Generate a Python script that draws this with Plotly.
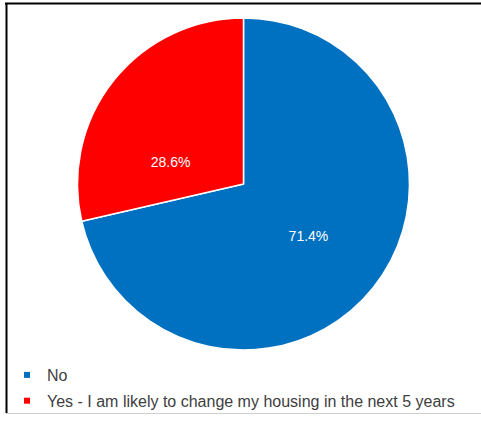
import plotly.graph_objects as go

labels = ["No", "Yes - I am likely to change my housing in the next 5 years"]
values = [71.4, 28.6]
colors = ["#0070C0", "#FF0000"]
label_templates = ["%{percent:.1%}", "&nbsp;<br>&nbsp;<br>&nbsp;<br>&nbsp;<br>%{percent:.1%}"]

W, H = 481, 421
cx, cy, r = 243.5, 184, 166
FONT = "Liberation Sans, Arial, sans-serif"

fig = go.Figure()
fig.add_trace(go.Pie(
    labels=labels, values=values, sort=False, direction="clockwise", rotation=0,
    marker=dict(colors=colors, line=dict(color="white", width=1.5)),
    texttemplate=label_templates, textposition="inside",
    insidetextfont=dict(color="white", size=14, family=FONT),
    insidetextorientation="horizontal",
    domain=dict(x=[(cx - r) / W, (cx + r) / W], y=[1 - (cy + r) / H, 1 - (cy - r) / H]),
    hoverinfo="label+percent", showlegend=False,
))

# legend entries with small square markers
for i, (lab, col) in enumerate(zip(labels, colors)):
    fig.add_trace(go.Scatter(
        x=[None], y=[None], mode="markers", name=lab, legendgroup=f"g{i}",
        marker=dict(symbol="square", size=6, color=col), showlegend=True,
    ))

fig.update_layout(
    width=W, height=H, margin=dict(l=0, r=0, t=0, b=0),
    paper_bgcolor="white", plot_bgcolor="rgba(0,0,0,0)",
    font=dict(family=FONT, size=16, color="#404040"),
    xaxis=dict(visible=False), yaxis=dict(visible=False),
    showlegend=True,
    legend=dict(x=7 / W, y=1 - 358 / H, xanchor="left", yanchor="top",
                orientation="v", bgcolor="rgba(0,0,0,0)", tracegroupgap=2,
                font=dict(size=16, color="#404040", family=FONT)),
    shapes=[
        dict(type="line", xref="paper", yref="paper", x0=5 / W, x1=1.01, y0=1 - 3.5 / H, y1=1 - 3.5 / H,
             line=dict(color="black", width=2)),
        dict(type="line", xref="paper", yref="paper", x0=6.5 / W, x1=6.5 / W, y0=1 - 3 / H, y1=1 - 413 / H,
             line=dict(color="black", width=2)),
        dict(type="line", xref="paper", yref="paper", x0=6 / W, x1=1.01, y0=1 - 413.5 / H, y1=1 - 413.5 / H,
             line=dict(color="#d0d0d0", width=1)),
    ],
)

fig.write_html("out.html", config={"displayModeBar": False},
               post_script="document.body.style.margin='0px';")
